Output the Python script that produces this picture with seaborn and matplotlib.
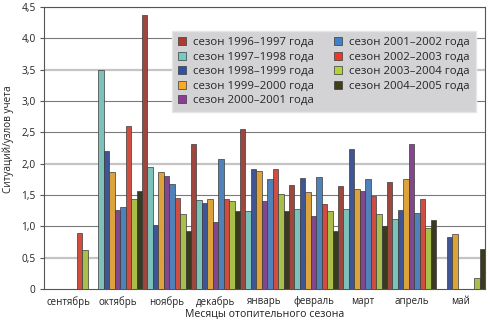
import numpy as np
import pandas as pd
import matplotlib
matplotlib.use("Agg")
import matplotlib.pyplot as plt
import seaborn as sns
from matplotlib.patches import Patch
from matplotlib.ticker import FuncFormatter, MultipleLocator

months = ["сентябрь", "октябрь", "ноябрь", "декабрь", "январь",
          "февраль", "март", "апрель", "май"]
seasons = ["сезон 1996–1997 года", "сезон 1997–1998 года", "сезон 1998–1999 года",
           "сезон 1999–2000 года", "сезон 2000–2001 года", "сезон 2001–2002 года",
           "сезон 2002–2003 года", "сезон 2003–2004 года", "сезон 2004–2005 года"]
nan = np.nan
s1996 = [nan, nan, 4.37, 2.32, 2.56, 1.66, 1.65, 1.70, nan]
s1997 = [nan, 3.49, 1.95, 1.42, 1.25, 1.27, 1.27, 1.12, nan]
s1998 = [nan, 2.20, 1.02, 1.38, 1.92, 1.77, 2.24, 1.26, 0.83]
s1999 = [nan, 1.86, 1.87, 1.43, 1.89, 1.55, 1.60, 1.75, 0.87]
s2000 = [nan, 1.26, 1.80, 1.07, 1.41, 1.16, 1.57, 2.31, nan]
s2001 = [nan, 1.31, 1.67, 2.07, 1.75, 1.78, 1.75, 1.21, nan]
s2002 = [0.89, 2.60, 1.46, 1.44, 1.91, 1.35, 1.49, 1.43, nan]
s2003 = [0.62, 1.43, 1.20, 1.41, 1.52, 1.24, 1.20, 0.98, 0.17]
s2004 = [nan, 1.57, 0.93, 1.24, 1.25, 0.93, 1.00, 1.10, 0.64]
series = [s1996, s1997, s1998, s1999, s2000, s2001, s2002, s2003, s2004]
colors = ["#AE3A2F", "#72CCC4", "#3050A4", "#F7AA22", "#8C3C96",
          "#3F80C9", "#E9392A", "#B4D336", "#3E3E1A"]

rows = []
for s, vals in zip(seasons, series):
    for m, v in zip(months, vals):
        rows.append({"month": m, "season": s, "value": v})
df = pd.DataFrame(rows)

sns.set_style("white")
plt.rcParams["font.family"] = ["Open Sans", "DejaVu Sans"]

fig = plt.figure(figsize=(4.9, 3.22), dpi=100)
ax = fig.add_axes([0.0898, 0.1025, 0.9, 0.8755])

sns.barplot(data=df, x="month", y="value", hue="season", order=months,
            hue_order=seasons, palette=colors, width=1.0, gap=0,
            errorbar=None, edgecolor="#3a3a3a", linewidth=0.5, ax=ax,
            legend=False, zorder=3)

ax.set_ylim(0, 4.5)
ax.set_xlim(-0.5, 8.5)
ax.yaxis.set_major_locator(MultipleLocator(0.5))
ax.yaxis.set_major_formatter(FuncFormatter(
    lambda v, p: "0" if v == 0 else f"{v:.1f}".replace(".", ",")))

for v in np.arange(0.5, 4.51, 0.5):
    if round(v * 2) in (1, 4, 7):
        ax.axhline(v, color="#c4c4c4", lw=1.6, zorder=1)
    else:
        ax.axhline(v, color="#7a7a7a", lw=0.8, zorder=1)

ax.set_xticks(range(len(months)))
ax.set_xticklabels(months)
ax.set_xticks(np.arange(-0.5, 9.0, 1.0), minor=True)
ax.tick_params(axis="x", which="major", length=0, labelsize=7, colors="#222222", pad=5)
ax.tick_params(axis="x", which="minor", length=4, width=0.8, color="#555555", direction="out")
ax.tick_params(axis="y", length=3, width=0.8, color="#555555", labelsize=7.3,
               colors="#222222", direction="out", left=True, pad=3)

for side in ["left", "bottom", "right", "top"]:
    ax.spines[side].set_visible(True)
    ax.spines[side].set_color("#555555")
    ax.spines[side].set_linewidth(0.8)

ax.set_xlabel("Месяцы отопительного сезона", fontsize=7.6, color="#222222", labelpad=1)
ax.set_ylabel("Ситуаций/узлов учета", fontsize=7.2, color="#222222")
ax.yaxis.set_label_coords(-0.068, 0.53)

handles = [Patch(facecolor=c, edgecolor="#3a3a3a", linewidth=0.5) for c in colors]
leg = ax.legend(handles, seasons, ncol=2, loc="upper left",
                bbox_to_anchor=(0.29, 0.915), borderaxespad=0,
                fontsize=8.2, frameon=True, fancybox=False,
                handlelength=0.7, handleheight=0.7, handletextpad=0.6,
                columnspacing=1.8, labelspacing=0.3, borderpad=0.55)
leg.get_frame().set_facecolor("#D3D3D5")
leg.get_frame().set_edgecolor("#E6E6E6")
leg.get_frame().set_alpha(1)
leg.set_zorder(5)

fig.savefig("out.png", dpi=100)
